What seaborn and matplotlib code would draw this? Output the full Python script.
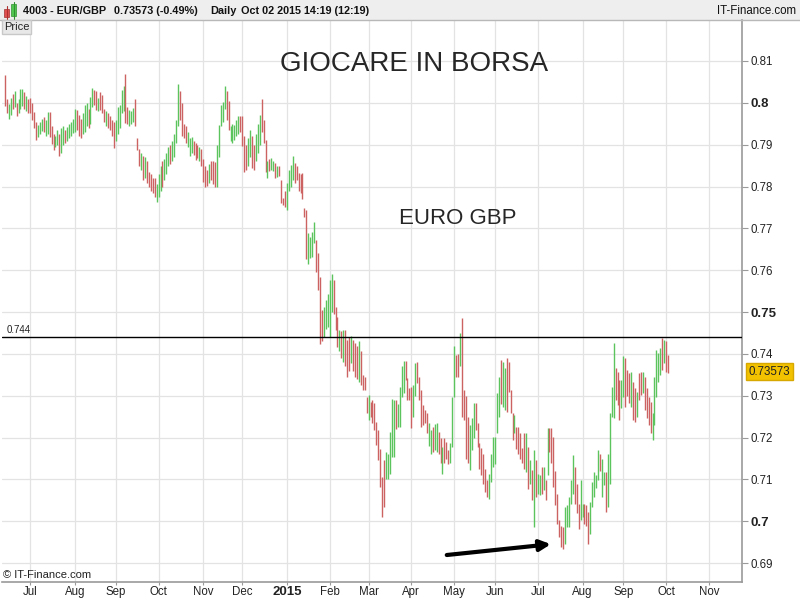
import numpy as np
import pandas as pd
import matplotlib
matplotlib.use("Agg")
import matplotlib.pyplot as plt
import seaborn as sns
from matplotlib.patches import Rectangle
from matplotlib.transforms import blended_transform_factory

# EUR/GBP daily bars, 12 Jun 2014 -> 02 Oct 2015, prices in pips (1e-4)
high = [
    # Jun 2014
    8066, 8010, 7998, 8012, 8020, 8028, 8000, 8010, 8034, 8034, 8026, 8016, 8008,
    # Jul
    8012, 8000, 7978, 7955, 7948, 7955, 7962, 7965, 7960, 7978, 7978, 7945, 7925,
    7920, 7935, 7925, 7940, 7945, 7935, 7942, 7950, 7955, 7962,
    # Aug
    7986, 7984, 7970, 7962, 7975, 7995, 8000, 7985, 8015, 8036, 8030, 8028, 8012,
    8025, 8018, 7985, 7980, 7975, 7968, 7960, 7955,
    # Sep
    7960, 7990, 7996, 8030, 8040, 8068, 7990, 7984, 7980, 7988, 8010, 7915, 7890,
    7880, 7872, 7870, 7860, 7835, 7830, 7820, 7820, 7805,
    # Oct
    7830, 7850, 7860, 7865, 7880, 7895, 7900, 7910, 7925, 7960, 8046, 8028, 8000,
    7950, 7944, 7930, 7916, 7918, 7910, 7904, 7900, 7895, 7890,
    # Nov
    7865, 7850, 7840, 7855, 7860, 7862, 7858, 7900, 7948, 7995, 8002, 8040, 8028,
    8005, 7944, 7950, 7948, 7960, 7968, 7968,
    # Dec
    7968, 7920, 7900, 7915, 7936, 7920, 7900, 7925, 7950, 7972, 8008, 7960, 7912,
    7860, 7866, 7868, 7860, 7856, 7850, 7848, 7816, 7772, 7790,
    # Jan 2015
    7808, 7840, 7852, 7874, 7856, 7850, 7832, 7830, 7832, 7748, 7744, 7688, 7680,
    7692, 7716, 7672, 7640, 7584, 7504, 7512, 7530, 7544,
    # Feb
    7576, 7592, 7576, 7512, 7488, 7456, 7455, 7458, 7458, 7434, 7440, 7442, 7434,
    7426, 7420, 7430, 7406, 7350, 7346, 7298,
    # Mar
    7302, 7286, 7290, 7282, 7238, 7218, 7174, 7106, 7146, 7166, 7162, 7214, 7292,
    7290, 7290, 7280, 7322, 7370, 7382, 7382, 7342, 7318,
    # Apr
    7322, 7326, 7378, 7380, 7346, 7314, 7278, 7266, 7258, 7234, 7218, 7226, 7232,
    7234, 7214, 7200, 7178, 7200, 7190, 7170, 7186, 7298,
    # May
    7418, 7398, 7400, 7450, 7485, 7314, 7300, 7250, 7230, 7246, 7282, 7282, 7234,
    7186, 7175, 7162, 7125, 7098, 7114, 7162, 7202,
    # Jun
    7202, 7306, 7346, 7386, 7380, 7366, 7390, 7380, 7314, 7258, 7254, 7226, 7226,
    7210, 7175, 7210, 7210, 7178, 7146, 7122, 7170, 7146,
    # Jul
    7114, 7110, 7130, 7130, 7098, 7222, 7222, 7222, 7202, 7120, 7066, 7002, 6990,
    6986, 7034, 7038, 7058, 7098, 7158, 7130, 7090, 7042, 7098,
    # Aug
    7042, 7042, 7040, 7022, 7046, 7094, 7118, 7110, 7170, 7162, 7150, 7118, 7118,
    7162, 7258, 7322, 7426, 7366, 7358, 7338, 7338,
    # Sep
    7394, 7390, 7362, 7354, 7358, 7334, 7318, 7310, 7354, 7358, 7358, 7346, 7318,
    7298, 7286, 7258, 7346, 7410, 7402, 7414, 7438, 7434,
    # Oct
    7430, 7398,
]

low = [
    # Jun 2014
    7992, 7975, 7962, 7970, 7985, 7990, 7968, 7975, 7985, 7992, 7986, 7980, 7975,
    # Jul
    7976, 7960, 7940, 7912, 7918, 7925, 7932, 7930, 7920, 7925, 7918, 7902, 7888,
    7895, 7900, 7872, 7880, 7900, 7905, 7910, 7915, 7920, 7928,
    # Aug
    7930, 7935, 7920, 7916, 7925, 7930, 7945, 7940, 7950, 7990, 7995, 7984, 7980,
    7984, 7975, 7955, 7945, 7940, 7935, 7920, 7892,
    # Sep
    7910, 7925, 7940, 7975, 7980, 7952, 7950, 7944, 7950, 7955, 7944, 7888, 7848,
    7840, 7815, 7820, 7808, 7800, 7790, 7784, 7775, 7764,
    # Oct
    7775, 7790, 7800, 7815, 7830, 7848, 7855, 7860, 7870, 7904, 7944, 7960, 7920,
    7915, 7904, 7895, 7872, 7880, 7875, 7864, 7868, 7860, 7850,
    # Nov
    7810, 7800, 7802, 7808, 7815, 7805, 7800, 7800, 7870, 7945, 7955, 7985, 7960,
    7935, 7910, 7905, 7912, 7920, 7925, 7930,
    # Dec
    7896, 7835, 7840, 7850, 7870, 7845, 7840, 7860, 7880, 7900, 7930, 7905, 7834,
    7820, 7836, 7840, 7836, 7820, 7822, 7825, 7760, 7756, 7750,
    # Jan 2015
    7744, 7790, 7800, 7815, 7808, 7815, 7790, 7784, 7770, 7728, 7628, 7616, 7630,
    7632, 7664, 7596, 7552, 7424, 7432, 7440, 7460, 7464,
    # Feb
    7440, 7500, 7496, 7456, 7416, 7408, 7390, 7380, 7370, 7346, 7360, 7378, 7360,
    7346, 7340, 7334, 7326, 7314, 7314, 7258,
    # Mar
    7242, 7250, 7234, 7218, 7182, 7146, 7082, 7010, 7034, 7102, 7102, 7114, 7154,
    7154, 7220, 7226, 7226, 7298, 7306, 7338, 7290, 7290,
    # Apr
    7222, 7250, 7300, 7330, 7290, 7226, 7230, 7236, 7210, 7180, 7162, 7166, 7170,
    7166, 7160, 7140, 7114, 7140, 7150, 7138, 7140, 7178,
    # May
    7298, 7346, 7346, 7370, 7250, 7242, 7150, 7140, 7122, 7170, 7200, 7218, 7178,
    7126, 7110, 7090, 7070, 7058, 7054, 7094, 7130,
    # Jun
    7138, 7210, 7250, 7280, 7274, 7266, 7262, 7310, 7258, 7194, 7210, 7174, 7160,
    7150, 7140, 7126, 7118, 7078, 7090, 7050, 6986, 7058,
    # Jul
    7066, 7062, 7066, 7074, 7050, 7110, 7166, 7140, 7082, 7040, 6994, 6962, 6938,
    6934, 6946, 6986, 6986, 7042, 7066, 7042, 7020, 6982, 7002,
    # Aug
    7010, 6994, 6990, 6946, 6970, 7034, 7058, 7080, 7098, 7120, 7058, 7086, 7022,
    7034, 7090, 7250, 7246, 7290, 7278, 7242, 7270,
    # Sep
    7298, 7274, 7300, 7282, 7274, 7242, 7238, 7250, 7290, 7302, 7306, 7266, 7246,
    7230, 7210, 7194, 7230, 7298, 7334, 7350, 7362, 7378,
    # Oct
    7358, 7354,
]

# g = up day, r = down day (one letter per bar, month by month)
direction = (
    "rrggrgrgggrgr"
    "rrrrgggrggrrrggrggrgggg"
    "grrrgggrggrrgrrrgrrrr"
    "gggggrrgggrrrgrgrrrrrg"
    "ggrgggrggggrrrrgggrrrgr"
    "rrrgrrrgggggrrgggggr"
    "rrrggrrgggrrrgrggrgrrrr"
    "ggggrrrrrrrggggrrrrggg"
    "ggrrrgrgrrrgrrrgrrrr"
    "grrrrrrrrgggggrggggrrr"
    "rggrrrrrrggrggrrgrrrgg"
    "grrgrrrrgggrrrrrrrggg"
    "gggrggrrrrgrrrrrgrgrgr"
    "ggrgrgrrrrrrrrgggggrrrg"
    "grrrgggggrggrggggrrrg"
    "grrrgrrgrrgrrrrgggggrg"
    "rr"
)

month_labels = ["Jul", "Aug", "Sep", "Oct", "Nov", "Dec", "2015", "Feb", "Mar",
                "Apr", "May", "Jun", "Jul", "Aug", "Sep", "Oct", "Nov"]
price_ticks = ["0.69", "0.7", "0.71", "0.72", "0.73", "0.74", "0.75",
               "0.76", "0.77", "0.78", "0.79", "0.8", "0.81"]
bold_ticks = ["0.7", "0.75", "0.8", "2015"]
level_line = 0.744
last_price = 0.73573

sns.set_theme(style="white")
plt.rcParams["font.family"] = ["Liberation Sans", "DejaVu Sans"]

df = pd.DataFrame({"high": np.array(high) / 10000, "low": np.array(low) / 10000,
                   "dir": list(direction)})
df["pos"] = np.arange(len(df))

# trading-day calendar used for the month grid
cal = pd.bdate_range("2014-06-12", "2015-11-30")
first_day = pd.Series(np.arange(len(cal)), index=cal).groupby([cal.year, cal.month]).first()
month_pos = first_day.values[1:1 + len(month_labels)]

fig = plt.figure(figsize=(8, 6), dpi=100)
ax = fig.add_axes([0.0025, 0.03, 0.925, 0.9367])

green = "#5cc45c"
red = "#cc6262"
colors = [green if d == "g" else red for d in df["dir"]]
ax.vlines(df["pos"], df["low"], df["high"], colors=colors, linewidth=1.0, zorder=3)

ax.set_xlim(-1.5, 379)
ax.set_ylim(0.6855, 0.8198)

# grid
for p in month_pos:
    ax.axvline(p, color="#e3e3e3", linewidth=0.9, zorder=1)
for t in price_ticks:
    ax.axhline(float(t), color="#e3e3e3", linewidth=0.9, zorder=1)

ax.axhline(level_line, color="black", linewidth=1.0, zorder=4)
ax.text(1, level_line + 0.0006, "0.744", fontsize=7, color="#222222", va="bottom")

# axes styling
ax.yaxis.tick_right()
ax.set_yticks([float(t) for t in price_ticks])
ax.set_yticklabels(price_ticks)
ax.set_xticks(month_pos)
ax.set_xticklabels(month_labels)
for lab in ax.get_yticklabels() + ax.get_xticklabels():
    lab.set_fontsize(8.3)
    lab.set_color("#222222")
    if lab.get_text() in bold_ticks:
        lab.set_fontweight("bold")
        lab.set_fontsize(9.5)
ax.tick_params(axis="y", which="both", right=True, length=4, width=0.8,
               color="#9a9a9a", pad=2)
ax.tick_params(axis="x", which="both", bottom=True, length=2, width=0.8,
               color="#9a9a9a", pad=1)
for side in ["top", "left"]:
    ax.spines[side].set_visible(False)
for side in ["right", "bottom"]:
    ax.spines[side].set_color("#9a9a9a")
    ax.spines[side].set_linewidth(1.2)

# last price label
trans = blended_transform_factory(ax.transAxes, ax.transData)
ax.text(1.009, last_price, f"{last_price:.5f}", transform=trans, fontsize=8.3,
        color="#222222", va="center", ha="left",
        bbox=dict(boxstyle="square,pad=0.2", facecolor="#f2c200", edgecolor="#d7a800"))

# annotations
fig.text(0.5175, 0.893, "GIOCARE IN BORSA", fontsize=20, ha="center", va="center")
fig.text(0.5725, 0.635, "EURO GBP", fontsize=16, ha="center", va="center")
ax.annotate("", xy=(0.692, 0.0935), xytext=(0.555, 0.0745),
            xycoords="figure fraction", textcoords="figure fraction",
            arrowprops=dict(arrowstyle="-|>", color="black", lw=3, mutation_scale=16))
fig.text(0.004, 0.0415, "\u00a9 IT-Finance.com", fontsize=8, color="#222222", va="center")

# header bar
fig.add_artist(Rectangle((0, 1 - 20 / 600), 1, 20 / 600, transform=fig.transFigure,
                         facecolor="#eeeeee", edgecolor="none", zorder=0))
fig.add_artist(plt.Line2D([0, 1], [1 - 20 / 600] * 2, transform=fig.transFigure,
                          color="#b8b8b8", linewidth=1))
# small candle icon
fig.add_artist(plt.Line2D([6.5 / 800] * 2, [1 - 19 / 600, 1 - 6 / 600], transform=fig.transFigure,
                          color="#b03030", linewidth=0.8))
fig.add_artist(Rectangle((4 / 800, 1 - 17 / 600), 5 / 800, 8 / 600, transform=fig.transFigure,
                         facecolor="#e05050", edgecolor="#a03030", linewidth=0.5))
fig.add_artist(plt.Line2D([13.5 / 800] * 2, [1 - 19 / 600, 1 - 2 / 600], transform=fig.transFigure,
                          color="#309030", linewidth=0.8))
fig.add_artist(Rectangle((11 / 800, 1 - 16 / 600), 5 / 800, 12 / 600, transform=fig.transFigure,
                         facecolor="#50c850", edgecolor="#309030", linewidth=0.5))
header_font = dict(fontsize=7.8, va="center", color="#111111", fontweight="bold")
fig.text(23 / 800, 1 - 11 / 600, "4003 - EUR/GBP", **header_font)
fig.text(114 / 800, 1 - 11 / 600, "0.73573 (-0.49%)", **header_font)
fig.text(210 / 800, 1 - 11 / 600, "Daily", **header_font)
fig.text(241 / 800, 1 - 11 / 600, "Oct 02 2015 14:19 (12:19)", **header_font)
fig.text(796 / 800, 1 - 11 / 600, "IT-Finance.com", fontsize=8.3, va="center", ha="right",
         color="#111111")
fig.text(4 / 800, 1 - 27 / 600, "Price", fontsize=8, va="center", color="#222222",
         bbox=dict(boxstyle="square,pad=0.15", facecolor="#e8e8e8", edgecolor="#c8c8c8"))

fig.savefig("out.png", dpi=100)
